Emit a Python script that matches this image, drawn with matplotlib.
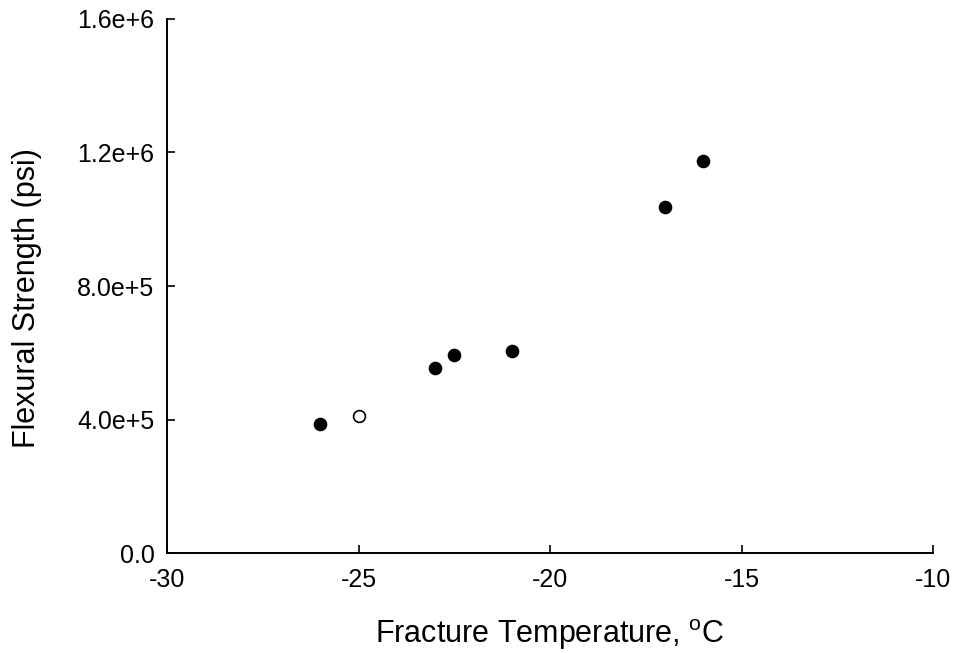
import matplotlib
matplotlib.use("Agg")
import matplotlib.pyplot as plt

# fracture temperature (C) and flexural strength (psi)
temp_filled = [-26, -23, -22.5, -21, -17, -16]
strength_filled = [3.87e5, 5.55e5, 5.94e5, 6.05e5, 1.036e6, 1.175e6]
temp_open = [-25]
strength_open = [4.1e5]

x_ticks = [-30, -25, -20, -15, -10]
y_ticks = [0, 4e5, 8e5, 1.2e6, 1.6e6]
y_tick_labels = ["0.0", "4.0e+5", "8.0e+5", "1.2e+6", "1.6e+6"]

plt.rcParams['font.family'] = ['Liberation Sans', 'DejaVu Sans']
plt.rcParams['mathtext.fontset'] = 'custom'
plt.rcParams['mathtext.rm'] = 'Liberation Sans'
plt.rcParams['axes.unicode_minus'] = False
plt.rcParams['xtick.direction'] = 'in'
plt.rcParams['ytick.direction'] = 'in'

fig = plt.figure(figsize=(9.56, 6.53), dpi=100)
ax = fig.add_axes([0.1747, 0.153, 0.8013, 0.818])

ax.plot(temp_filled, strength_filled, linestyle='none', marker='o',
        markersize=8.8, color='black')
ax.plot(temp_open, strength_open, linestyle='none', marker='o',
        markersize=8.5, markerfacecolor='white', markeredgecolor='black',
        markeredgewidth=1.2)

ax.set_xlim(-30, -10)
ax.set_ylim(0, 1.6e6)
ax.set_xticks(x_ticks)
ax.set_xticklabels([str(t) for t in x_ticks])
ax.set_yticks(y_ticks)
ax.set_yticklabels(y_tick_labels)

for side in ['top', 'right']:
    ax.spines[side].set_visible(False)
for side in ['left', 'bottom']:
    ax.spines[side].set_linewidth(1.4)
ax.tick_params(axis='both', direction='in', length=5.5, width=1.2, labelsize=18)
ax.tick_params(axis='x', pad=11)
ax.tick_params(axis='y', pad=9)

ax.set_xlabel("Fracture Temperature, $^\\mathregular{o}$C", fontsize=22)
ax.set_ylabel("Flexural Strength (psi)", fontsize=22)
ax.xaxis.set_label_coords(0.5, -0.12)
ax.yaxis.set_label_coords(-0.163, 0.478)

fig.savefig("out.png", dpi=100)
